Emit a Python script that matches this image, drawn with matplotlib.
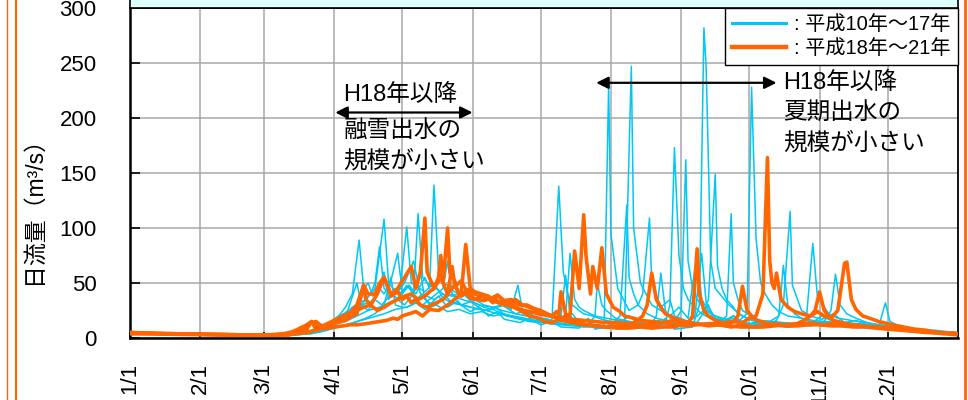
import matplotlib
matplotlib.use("Agg")
import matplotlib.pyplot as plt
from matplotlib.patches import Rectangle
from matplotlib.lines import Line2D

plt.rcParams['font.family'] = ['Liberation Sans', 'Noto Sans CJK JP']

CYAN = "#00C8F5"
ORANGE = "#FF6600"

# month starts (day of year) and their labels
month_days = [0, 31, 59, 90, 120, 151, 181, 212, 243, 273, 304, 334]
month_labels = ["1/1", "2/1", "3/1", "4/1", "5/1", "6/1", "7/1", "8/1", "9/1", "10/1", "11/1", "12/1"]
y_ticks = [0, 50, 100, 150, 200, 250, 300]

# daily discharge H10-H17, (day of year, m3/s)
c1 = [(0, 5), (10, 4), (25, 3.5), (40, 3), (59, 2.5), (70, 3), (80, 6), (85, 10), (88, 14), (92, 20), (95, 28),
      (98, 40), (101, 89), (103, 45), (105, 50), (107, 38), (110, 45), (112, 40), (115, 52), (118, 77), (120, 42),
      (123, 48), (126, 35), (129, 40), (132, 30), (136, 38), (140, 28), (144, 33), (150, 24), (154, 28), (158, 20),
      (162, 24), (165, 17), (172, 14), (176, 18), (181, 12), (186, 15), (190, 10), (198, 9), (202, 18), (205, 8),
      (209, 10), (211, 230), (212, 95), (215, 45), (220, 25), (224, 30), (226, 40), (229, 109), (230, 50),
      (234, 28), (238, 35), (240, 20), (245, 16), (250, 14), (255, 30), (257, 18), (260, 12), (266, 20), (270, 10),
      (275, 14), (280, 11), (285, 16), (288, 30), (291, 115), (292, 48), (296, 25), (300, 20), (305, 17), (310, 22),
      (315, 14), (320, 16), (325, 12), (333, 10), (340, 9), (348, 8), (355, 7), (364, 5)]

c2 = [(0, 4), (15, 3.5), (30, 3), (45, 3), (59, 2.5), (72, 3), (78, 5), (82, 8), (86, 12), (90, 15), (94, 22),
      (98, 20), (102, 30), (105, 25), (108, 35), (112, 60), (114, 35), (117, 45), (120, 40), (123, 48), (126, 40),
      (130, 55), (132, 45), (134, 139), (136, 60), (138, 50), (140, 48), (143, 42), (146, 40), (149, 45), (152, 35),
      (156, 30), (160, 28), (164, 30), (170, 22), (175, 25), (180, 16), (184, 14), (188, 13), (190, 20), (192, 57),
      (194, 22), (196, 11), (200, 10), (204, 10), (208, 9), (212, 9), (216, 10), (218, 12), (221, 247), (222, 100),
      (225, 50), (230, 30), (234, 25), (238, 20), (242, 28), (246, 18), (250, 78), (252, 35), (256, 22), (260, 18),
      (262, 15), (266, 20), (272, 12), (277, 15), (282, 11), (287, 14), (292, 13), (296, 12), (298, 14), (301, 86),
      (303, 38), (308, 22), (312, 18), (318, 16), (324, 14), (330, 12), (338, 10), (345, 8), (355, 6), (364, 4)]

c3 = [(0, 5), (20, 4), (40, 3), (59, 2.5), (75, 3), (80, 5), (85, 9), (88, 12), (92, 18), (96, 25), (100, 50),
      (102, 30), (105, 32), (108, 35), (111, 30), (115, 40), (118, 36), (122, 48), (125, 40), (127, 113), (129, 55),
      (132, 48), (135, 45), (138, 40), (142, 38), (146, 42), (150, 34), (154, 30), (160, 28), (164, 25), (170, 22),
      (175, 20), (180, 18), (185, 16), (190, 15), (195, 22), (198, 14), (200, 13), (205, 12), (210, 11), (215, 14),
      (220, 10), (226, 12), (232, 9), (236, 18), (240, 8), (244, 9), (248, 10), (251, 30), (253, 282), (254, 245),
      (256, 70), (258, 45), (260, 40), (264, 30), (267, 25), (270, 20), (274, 16), (278, 14), (282, 15), (286, 20),
      (288, 66), (290, 30), (293, 22), (296, 18), (300, 15), (305, 14), (310, 13), (318, 11), (325, 10), (332, 9),
      (340, 8), (345, 7), (355, 6), (364, 5)]

c4 = [(0, 4), (20, 3.5), (40, 3), (59, 2.5), (72, 3), (78, 6), (84, 10), (88, 14), (92, 20), (95, 22), (98, 28),
      (101, 32), (104, 35), (106, 40), (108, 45), (112, 108), (114, 50), (116, 45), (118, 42), (121, 50), (125, 70),
      (128, 40), (131, 38), (134, 35), (138, 40), (142, 32), (147, 30), (152, 27), (157, 25), (162, 22), (167, 20),
      (172, 17), (176, 15), (180, 14), (183, 18), (186, 16), (189, 138), (191, 60), (193, 40), (195, 30), (198, 25),
      (200, 22), (204, 20), (208, 17), (212, 15), (216, 14), (220, 20), (224, 13), (228, 12), (234, 12), (238, 15),
      (244, 11), (248, 12), (254, 12), (258, 14), (262, 13), (265, 18), (268, 15), (272, 22), (274, 228), (276, 90),
      (278, 50), (280, 40), (283, 30), (286, 24), (290, 20), (296, 18), (301, 16), (306, 15), (311, 14), (316, 14),
      (321, 13), (326, 12), (331, 10), (336, 9), (343, 8), (350, 6), (357, 5), (364, 4)]

c5 = [(0, 5), (20, 4), (40, 3), (59, 2.5), (70, 3), (78, 4), (84, 8), (88, 14), (92, 18), (95, 22), (99, 26),
      (102, 30), (104, 35), (106, 40), (108, 50), (110, 83), (112, 45), (114, 42), (116, 38), (119, 45), (122, 101),
      (124, 50), (127, 46), (130, 42), (134, 50), (138, 36), (142, 40), (146, 30), (150, 33), (156, 25), (161, 28),
      (166, 20), (171, 18), (176, 16), (181, 14), (186, 13), (190, 15), (192, 20), (194, 77), (196, 35), (198, 28),
      (200, 25), (205, 20), (210, 18), (215, 16), (220, 15), (225, 14), (230, 13), (233, 16), (236, 14), (238, 30),
      (240, 173), (242, 75), (244, 45), (246, 35), (249, 28), (252, 22), (256, 18), (262, 16), (266, 20), (270, 14),
      (275, 13), (280, 13), (285, 12), (290, 12), (295, 14), (300, 13), (305, 20), (310, 15), (315, 13), (320, 12),
      (326, 10), (332, 9), (338, 8), (345, 6), (355, 5), (364, 4)]

c6 = [(0, 4), (20, 3.5), (40, 3), (59, 2.5), (70, 3), (80, 5), (85, 8), (90, 12), (95, 15), (100, 20), (105, 25),
      (110, 28), (114, 32), (118, 35), (121, 30), (124, 38), (126, 45), (128, 60), (130, 35), (132, 32), (135, 30),
      (138, 36), (142, 32), (146, 30), (150, 28), (154, 26), (158, 25), (162, 28), (165, 30), (168, 26), (171, 48),
      (173, 25), (178, 20), (182, 18), (186, 15), (191, 13), (196, 12), (201, 11), (206, 10), (210, 11), (212, 12),
      (216, 20), (219, 121), (220, 55), (222, 40), (224, 30), (228, 22), (232, 18), (236, 16), (240, 15), (243, 25),
      (245, 162), (246, 70), (248, 45), (250, 35), (254, 25), (258, 20), (263, 17), (268, 14), (273, 13), (278, 12),
      (284, 11), (290, 10), (295, 12), (300, 11), (306, 15), (312, 14), (317, 13), (322, 12), (326, 11), (330, 10),
      (333, 32), (335, 15), (338, 12), (342, 9), (347, 8), (352, 6), (358, 5), (364, 4)]

c7 = [(0, 4), (20, 3.5), (40, 3), (59, 2.5), (72, 3), (80, 4), (86, 7), (92, 10), (97, 13), (102, 16), (107, 19),
      (112, 22), (117, 26), (122, 28), (126, 32), (129, 30), (132, 35), (135, 40), (138, 45), (140, 70), (142, 40),
      (145, 36), (148, 34), (152, 32), (156, 28), (160, 26), (164, 22), (169, 20), (174, 18), (179, 16), (184, 14),
      (189, 13), (194, 12), (199, 14), (204, 11), (209, 10), (214, 10), (219, 12), (224, 10), (229, 10), (232, 20),
      (234, 59), (236, 25), (239, 15), (244, 12), (247, 16), (250, 20), (253, 25), (255, 35), (258, 149), (259, 65),
      (261, 45), (263, 35), (266, 28), (268, 22), (272, 18), (276, 16), (281, 15), (286, 14), (291, 13), (296, 13),
      (301, 14), (306, 15), (309, 25), (311, 58), (313, 30), (316, 22), (320, 18), (325, 14), (330, 12), (337, 10),
      (345, 8), (355, 6), (364, 5)]

c8 = [(0, 4), (20, 3.5), (40, 3), (59, 2.5), (72, 3), (80, 4), (85, 6), (90, 9), (95, 12), (100, 15), (104, 18),
      (108, 22), (112, 30), (115, 55), (117, 30), (120, 28), (122, 28), (126, 32), (130, 26), (135, 30), (140, 24),
      (145, 26), (150, 22), (155, 24), (160, 20), (165, 22), (170, 18), (175, 16), (180, 15), (185, 13), (190, 12),
      (195, 11), (200, 11), (203, 15), (205, 20), (206, 50), (208, 30), (210, 25), (214, 18), (220, 15), (225, 13),
      (230, 12), (235, 11), (240, 11), (245, 13), (249, 20), (252, 77), (254, 32), (258, 18), (261, 16), (263, 20),
      (265, 113), (266, 50), (268, 35), (270, 25), (274, 20), (278, 16), (283, 15), (288, 14), (293, 13), (298, 13),
      (303, 12), (308, 12), (313, 11), (318, 11), (323, 10), (328, 10), (334, 9), (340, 8), (346, 7), (352, 6),
      (358, 5), (364, 4)]

# daily discharge H18-H21
o1 = [(0, 5), (15, 4), (30, 3.5), (45, 3), (59, 2.5), (70, 3), (75, 5), (78, 8), (80, 15), (82, 8), (84, 10),
      (88, 12), (90, 14), (93, 18), (96, 20), (100, 30), (103, 48), (105, 40), (108, 40), (110, 50), (112, 55),
      (115, 40), (118, 45), (121, 55), (124, 65), (126, 45), (128, 60), (130, 109), (131, 60), (133, 50), (134, 45),
      (137, 55), (140, 40), (143, 48), (146, 38), (149, 42), (152, 35), (155, 38), (158, 36), (160, 32), (162, 39),
      (165, 34), (168, 35), (172, 30), (175, 30), (178, 27), (181, 25), (184, 22), (186, 20), (188, 24), (190, 18),
      (192, 20), (194, 22), (196, 79), (198, 45), (200, 112), (201, 75), (203, 40), (204, 65), (206, 45), (208, 82),
      (210, 40), (213, 28), (216, 24), (218, 20), (222, 18), (225, 16), (230, 15), (235, 14), (240, 16), (245, 12),
      (250, 13), (255, 11), (260, 12), (265, 10), (270, 12), (275, 10), (280, 11), (285, 13), (290, 11), (295, 12),
      (300, 14), (305, 12), (310, 13), (315, 11), (320, 12), (325, 10), (330, 10), (335, 9), (340, 8), (345, 7),
      (350, 6), (355, 5), (364, 4)]

o2 = [(0, 4), (15, 4), (30, 3.5), (45, 3), (59, 2.5), (70, 3), (74, 5), (76, 8), (78, 12), (80, 15), (83, 10),
      (86, 12), (89, 15), (92, 18), (96, 22), (100, 25), (103, 28), (106, 30), (109, 25), (112, 28), (115, 32),
      (118, 35), (121, 38), (124, 40), (127, 35), (130, 38), (132, 42), (134, 45), (136, 55), (137, 75), (138, 50),
      (140, 100), (141, 60), (144, 48), (146, 52), (148, 44), (150, 42), (152, 40), (155, 38), (158, 36), (161, 33),
      (165, 30), (168, 32), (172, 26), (176, 24), (180, 22), (185, 20), (190, 18), (195, 17), (200, 16), (205, 15),
      (210, 14), (215, 14), (220, 13), (225, 12), (230, 12), (235, 14), (240, 12), (245, 11), (250, 12), (255, 13),
      (260, 13), (265, 15), (270, 14), (273, 18), (276, 20), (279, 40), (281, 164), (282, 70), (283, 50), (284, 45),
      (285, 59), (287, 35), (290, 28), (293, 24), (296, 22), (300, 20), (303, 24), (306, 20), (309, 18), (312, 25),
      (315, 68), (316, 69), (318, 35), (320, 26), (323, 20), (326, 18), (330, 15), (336, 12), (341, 10), (346, 8),
      (351, 7), (356, 5), (364, 4)]

o3 = [(0, 5), (15, 4), (30, 3.5), (45, 3), (59, 2.5), (70, 3), (78, 5), (84, 8), (90, 10), (94, 11), (97, 12),
      (100, 12), (104, 13), (107, 14), (110, 15), (113, 16), (116, 18), (118, 17), (120, 20), (123, 22), (126, 24),
      (129, 20), (132, 26), (136, 25), (140, 30), (143, 35), (146, 40), (148, 85), (150, 45), (152, 42), (155, 40),
      (158, 38), (160, 35), (163, 33), (166, 30), (169, 28), (172, 25), (176, 20), (180, 18), (183, 15), (186, 14),
      (188, 16), (189, 20), (190, 42), (192, 22), (194, 18), (196, 15), (199, 13), (202, 12), (206, 11), (210, 10),
      (215, 9), (220, 9), (225, 10), (230, 9), (235, 10), (240, 10), (243, 12), (246, 14), (248, 20), (250, 81),
      (251, 40), (253, 25), (255, 20), (258, 16), (261, 14), (264, 13), (266, 15), (268, 20), (270, 47), (272, 25),
      (274, 20), (276, 16), (280, 14), (284, 12), (289, 11), (294, 11), (299, 12), (304, 12), (309, 11), (314, 11),
      (319, 10), (324, 10), (329, 9), (334, 8), (340, 7), (346, 6), (351, 5), (356, 5), (364, 4)]

o4 = [(0, 4), (15, 3.5), (30, 3), (45, 2.5), (59, 2.5), (68, 4), (72, 6), (76, 10), (78, 12), (82, 15), (85, 10),
      (88, 12), (91, 14), (95, 16), (98, 20), (100, 22), (103, 48), (104, 35), (106, 30), (109, 40), (112, 55),
      (114, 45), (115, 38), (118, 42), (120, 35), (122, 38), (124, 32), (126, 35), (128, 30), (131, 28), (135, 32),
      (138, 35), (140, 40), (142, 65), (143, 50), (145, 40), (148, 42), (150, 36), (153, 35), (156, 34), (159, 36),
      (162, 39), (165, 33), (168, 32), (170, 35), (173, 30), (176, 28), (179, 25), (182, 22), (186, 20), (190, 16),
      (195, 14), (200, 12), (205, 11), (210, 10), (215, 11), (220, 12), (223, 15), (226, 20), (228, 30), (230, 59),
      (232, 35), (234, 28), (236, 22), (240, 18), (244, 15), (249, 13), (254, 12), (259, 12), (264, 11), (269, 10),
      (274, 10), (279, 10), (284, 11), (289, 12), (294, 13), (297, 16), (300, 20), (302, 25), (304, 42), (306, 25),
      (308, 20), (310, 16), (314, 14), (318, 12), (323, 11), (328, 10), (333, 9), (338, 8), (343, 7), (348, 6),
      (353, 5), (358, 4), (364, 3)]

early = [c1, c2, c3, c4, c5, c6, c7, c8]
late = [o1, o2, o3, o4]

fig = plt.figure(figsize=(9.68, 4.0), dpi=100)
ax = fig.add_axes([130 / 968, 62 / 400, 828 / 968, 330 / 400])

for s in early:
    d, q = zip(*s)
    ax.plot(d, q, color=CYAN, lw=1.1, zorder=3)
for s in late:
    d, q = zip(*s)
    ax.plot(d, q, color=ORANGE, lw=2.6, zorder=4)

ax.set_xlim(0, 365)
ax.set_ylim(0, 300)
ax.set_xticks(month_days)
ax.set_xticklabels(month_labels, rotation=90, fontsize=16)
ax.set_yticks(y_ticks)
ax.tick_params(axis='y', direction='in', length=7, width=1.2, pad=24, labelsize=16)
ax.tick_params(axis='x', direction='in', length=4, width=1.2, pad=18)
ax.grid(True, color='#a8a8a8', lw=1.1, zorder=0)
ax.set_axisbelow(True)
for sp in ax.spines.values():
    sp.set_color('black')
    sp.set_linewidth(1.3)
ax.spines['left'].set_linewidth(1.8)
ax.spines['bottom'].set_linewidth(1.8)

h = [Line2D([], [], color=CYAN, lw=2.2), Line2D([], [], color=ORANGE, lw=3.2)]
leg = ax.legend(h, [': 平成10年～17年', ': 平成18年～21年'], loc='upper right', bbox_to_anchor=(1, 1),
                borderaxespad=0, fontsize=14.5, handlelength=2.7, handletextpad=0.4, labelspacing=0.25,
                borderpad=0.35, fancybox=False, framealpha=1, edgecolor='black')
leg.get_frame().set_linewidth(1.0)
leg.set_zorder(6)

# annotations
arrow = dict(arrowstyle='<|-|>', color='black', lw=1.6, mutation_scale=18, shrinkA=0, shrinkB=0)
ax.annotate('', xy=(90.5, 205), xytext=(151, 205), arrowprops=arrow, zorder=7)
ax.annotate('', xy=(205.5, 232), xytext=(285, 232), arrowprops=arrow, zorder=7)
ax.text(94, 221, 'H18年以降', fontsize=17, va='center', ha='left', zorder=7)
ax.text(94, 188, '融雪出水の', fontsize=17, va='center', ha='left', zorder=7)
ax.text(94, 161, '規模が小さい', fontsize=17, va='center', ha='left', zorder=7)
ax.text(288, 232, 'H18年以降', fontsize=17, va='center', ha='left', zorder=7)
ax.text(288, 204, '夏期出水の', fontsize=17, va='center', ha='left', zorder=7)
ax.text(288, 177, '規模が小さい', fontsize=17, va='center', ha='left', zorder=7)

fig.text(33 / 968, 0.49, '日流量（m³/s）', rotation=90, ha='center', va='center', fontsize=16.5)

# title box edge above the plot and orange frame
fig.add_artist(Rectangle((130 / 968, 392 / 400), 828 / 968, 0.05, transform=fig.transFigure,
                         facecolor='#e0ffff', edgecolor='black', lw=1.2))
fig.add_artist(Line2D([7 / 968, 7 / 968], [0, 1], color=ORANGE, lw=1.0))
fig.add_artist(Line2D([16 / 968, 16 / 968], [0, 1], color=ORANGE, lw=1.5))
fig.add_artist(Line2D([965 / 968, 965 / 968], [0, 1], color=ORANGE, lw=2.0))

fig.savefig("out.png", dpi=100)
